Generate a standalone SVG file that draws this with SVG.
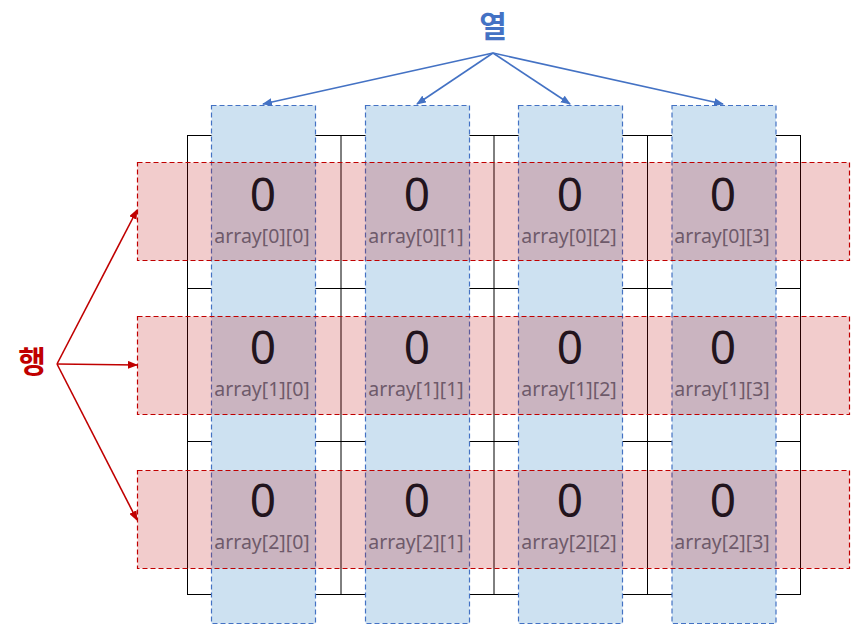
<svg xmlns="http://www.w3.org/2000/svg" width="851" height="625" viewBox="0 0 851 625">
<defs>
<style>
.grid{fill:none;stroke:#000;stroke-width:1}
.col{fill:#cde1f1;stroke:#4472c4;stroke-width:1.2;stroke-dasharray:5 3}
.row{fill:#c00000;fill-opacity:0.2;stroke:#c00000;stroke-width:1.2;stroke-dasharray:5 3}
.val{font-family:"Noto Sans","Liberation Sans",sans-serif;font-size:46px;fill:#22141d;text-anchor:middle}
.idx{font-family:"Noto Sans","Liberation Sans",sans-serif;font-size:19.5px;fill:#6e5a6a;text-anchor:middle}
.lbl{font-family:"Noto Sans CJK KR",sans-serif;font-size:30px;font-weight:bold;text-anchor:middle}
.ab{stroke:#4472c4;stroke-width:1.6;fill:none}
.ar{stroke:#c00000;stroke-width:1.6;fill:none}
</style>
<marker id="mb" markerWidth="10" markerHeight="8" refX="9" refY="4" orient="auto" markerUnits="userSpaceOnUse"><path d="M0,0 L10,4 L0,8 z" fill="#4472c4"/></marker>
<marker id="mr" markerWidth="10" markerHeight="8" refX="9" refY="4" orient="auto" markerUnits="userSpaceOnUse"><path d="M0,0 L10,4 L0,8 z" fill="#c00000"/></marker>
</defs>
<rect width="851" height="625" fill="#fff"/>
<g id="grid" class="grid">
<rect x="187.5" y="135.5" width="613" height="459"/>
<line x1="341" y1="135.5" x2="341" y2="594.5"/>
<line x1="494" y1="135.5" x2="494" y2="594.5"/>
<line x1="647.5" y1="135.5" x2="647.5" y2="594.5"/>
<line x1="187.5" y1="288.5" x2="800.5" y2="288.5"/>
<line x1="187.5" y1="441.5" x2="800.5" y2="441.5"/>
</g>
<g id="columns">
<rect class="col" x="211.5" y="105.5" width="104" height="518"/>
<rect class="col" x="365.5" y="105.5" width="104" height="518"/>
<rect class="col" x="518.5" y="105.5" width="104" height="518"/>
<rect class="col" x="672" y="105.5" width="104" height="518"/>
</g>
<g id="rows">
<rect class="row" x="137.5" y="162.5" width="712" height="98"/>
<rect class="row" x="137.5" y="316.5" width="712" height="98"/>
<rect class="row" x="137.5" y="470.5" width="712" height="98"/>
</g>
<g id="cells">
<g id="c00"><text class="val" x="263" y="211">0</text><text class="idx" x="262" y="243">array[0][0]</text></g>
<g id="c01"><text class="val" x="417" y="211">0</text><text class="idx" x="416" y="243">array[0][1]</text></g>
<g id="c02"><text class="val" x="570" y="211">0</text><text class="idx" x="569" y="243">array[0][2]</text></g>
<g id="c03"><text class="val" x="723" y="211">0</text><text class="idx" x="722" y="243">array[0][3]</text></g>
<g id="c10"><text class="val" x="263" y="364">0</text><text class="idx" x="262" y="396">array[1][0]</text></g>
<g id="c11"><text class="val" x="417" y="364">0</text><text class="idx" x="416" y="396">array[1][1]</text></g>
<g id="c12"><text class="val" x="570" y="364">0</text><text class="idx" x="569" y="396">array[1][2]</text></g>
<g id="c13"><text class="val" x="723" y="364">0</text><text class="idx" x="722" y="396">array[1][3]</text></g>
<g id="c20"><text class="val" x="263" y="517">0</text><text class="idx" x="262" y="549">array[2][0]</text></g>
<g id="c21"><text class="val" x="417" y="517">0</text><text class="idx" x="416" y="549">array[2][1]</text></g>
<g id="c22"><text class="val" x="570" y="517">0</text><text class="idx" x="569" y="549">array[2][2]</text></g>
<g id="c23"><text class="val" x="723" y="517">0</text><text class="idx" x="722" y="549">array[2][3]</text></g>
</g>
<g id="label-col"><text class="lbl" x="493" y="37" fill="#4472c4">열</text></g>
<g id="label-row"><text class="lbl" x="32" y="372" fill="#c00000">행</text></g>
<g id="connectors">
<line class="ab" x1="493" y1="53" x2="263" y2="104" marker-end="url(#mb)"/>
<line class="ab" x1="493" y1="53" x2="417" y2="104" marker-end="url(#mb)"/>
<line class="ab" x1="493" y1="53" x2="570" y2="104" marker-end="url(#mb)"/>
<line class="ab" x1="493" y1="53" x2="723" y2="104" marker-end="url(#mb)"/>
<line class="ar" x1="57" y1="364" x2="137" y2="210" marker-end="url(#mr)"/>
<line class="ar" x1="57" y1="364" x2="137" y2="365" marker-end="url(#mr)"/>
<line class="ar" x1="57" y1="364" x2="137" y2="520" marker-end="url(#mr)"/>
</g>
</svg>
